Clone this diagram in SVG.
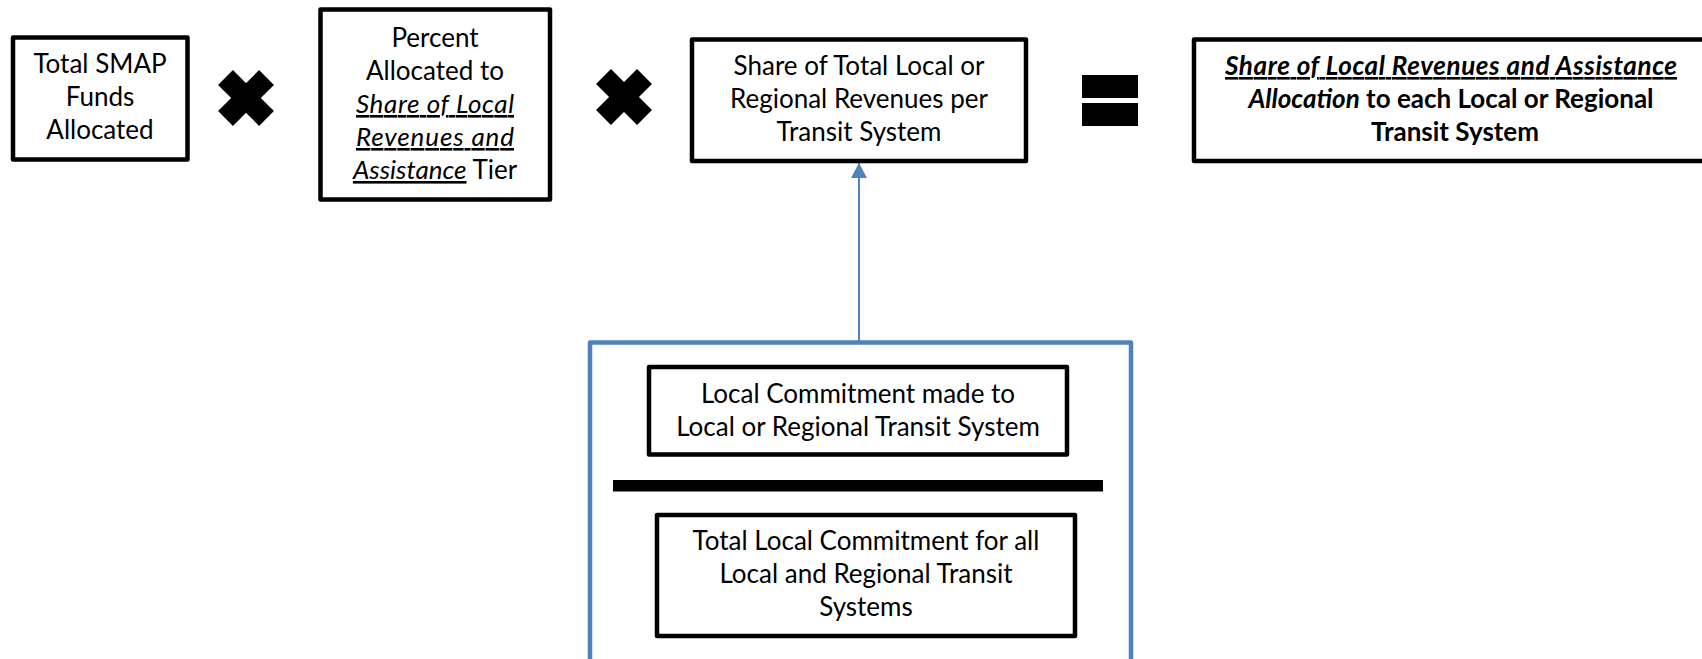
<svg xmlns="http://www.w3.org/2000/svg" width="1702" height="659" viewBox="0 0 1702 659">
  <defs>
    <style>
      .box { fill: #ffffff; stroke: #000000; stroke-width: 4.5; stroke-linejoin: round; }
      .frame { fill: none; stroke: #4F81BD; stroke-width: 4.5; stroke-linejoin: round; }
      .link { fill: none; stroke: #4F81BD; stroke-width: 2; }
      .op { fill: #000000; }
      .t { font-family: Lato, "Liberation Sans", sans-serif; font-size: 26px; fill: #000000; text-anchor: middle; }
      .b { font-weight: bold; }
      .i { font-style: italic; }
      .u { text-decoration: underline; }
    </style>
    <marker id="arrowhead" markerWidth="16" markerHeight="16" refX="15" refY="8" orient="auto" markerUnits="userSpaceOnUse" viewBox="0 0 16 16">
      <path d="M0,0 L15,8 L0,16 Z" fill="#4F81BD"/>
    </marker>
    <!-- heavy multiplication sign, centred on the origin -->
    <g id="times">
      <rect x="-29" y="-10.5" width="58" height="21" transform="rotate(45)"/>
      <rect x="-29" y="-10.5" width="58" height="21" transform="rotate(-45)"/>
    </g>
  </defs>

  <rect width="1702" height="659" fill="#ffffff"/>

  <!-- connector: ratio frame feeds the per-system share -->
  <g id="connectors">
    <line class="link" x1="859" y1="342" x2="859" y2="163" marker-end="url(#arrowhead)"/>
  </g>

  <g id="total-smap-funds">
    <rect class="box" x="13" y="37.5" width="174.5" height="122"/>
    <text class="t" x="100" y="73">Total SMAP</text>
    <text class="t" x="100" y="106">Funds</text>
    <text class="t" x="100" y="139">Allocated</text>
  </g>

  <g id="op-times-1" class="op">
    <use href="#times" x="246" y="98"/>
  </g>

  <g id="percent-tier">
    <rect class="box" x="320.5" y="9.5" width="229.5" height="190"/>
    <text class="t" x="435" y="47">Percent</text>
    <text class="t" x="435" y="80">Allocated to</text>
    <text class="t i u" x="435" y="113" textLength="158" lengthAdjust="spacing">Share of Local</text>
    <text class="t i u" x="435" y="146" textLength="158" lengthAdjust="spacing">Revenues and</text>
    <text class="t" x="435" y="179"><tspan class="i u">Assistance</tspan> Tier</text>
  </g>

  <g id="op-times-2" class="op">
    <use href="#times" x="624" y="97"/>
  </g>

  <g id="share-per-system">
    <rect class="box" x="692" y="39.5" width="334" height="121.5"/>
    <text class="t" x="859" y="75">Share of Total Local or</text>
    <text class="t" x="859" y="108">Regional Revenues per</text>
    <text class="t" x="859" y="141">Transit System</text>
  </g>

  <g id="op-equals" class="op">
    <rect x="1082" y="75" width="56" height="23"/>
    <rect x="1082" y="103" width="56" height="23"/>
  </g>

  <g id="allocation-result">
    <rect class="box" x="1194" y="39.5" width="532" height="121.5"/>
    <text class="t b i u" x="1451" y="75" textLength="452" lengthAdjust="spacing">Share of Local Revenues and Assistance</text>
    <text class="t b" x="1451" y="108"><tspan class="i">Allocation</tspan> to each Local or Regional</text>
    <text class="t b" x="1455" y="141">Transit System</text>
  </g>

  <g id="commitment-ratio">
    <rect class="frame" x="590" y="342.5" width="541" height="400"/>
    <g id="local-commitment">
      <rect class="box" x="649" y="367" width="418" height="87.5"/>
      <text class="t" x="858" y="403">Local Commitment made to</text>
      <text class="t" x="858" y="436">Local or Regional Transit System</text>
    </g>
    <rect id="division-bar" x="613" y="480" width="490" height="11.5" fill="#000000"/>
    <g id="total-commitment">
      <rect class="box" x="657" y="515" width="418" height="121"/>
      <text class="t" x="866" y="550">Total Local Commitment for all</text>
      <text class="t" x="866" y="583">Local and Regional Transit</text>
      <text class="t" x="866" y="616">Systems</text>
    </g>
  </g>
</svg>
